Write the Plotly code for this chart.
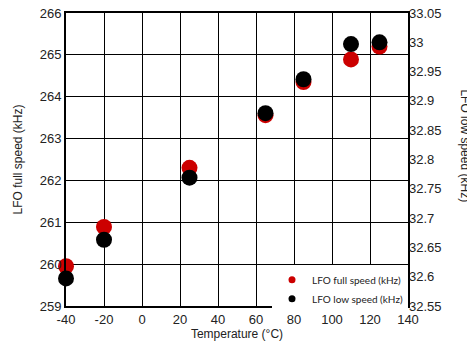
import plotly.graph_objects as go

# temperatures (°C)
temps = [-40, -20, 25, 65, 85, 110, 125]
# LFO full speed (kHz), left axis
full_speed = [259.95, 260.89, 262.3, 263.56, 264.35, 264.89, 265.2]
# LFO low speed (kHz), right axis
low_speed = [32.597, 32.663, 32.769, 32.879, 32.937, 32.997, 33.0]

x_ticks = [-40, -20, 0, 20, 40, 60, 80, 100, 120, 140]
x_labels = ["-40", "-20", "0", "20", "40", "60", "80", "100", "120", "140"]
right_ticks = [32.55, 32.6, 32.65, 32.7, 32.75, 32.8, 32.85, 32.9, 32.95, 33, 33.05]
right_labels = ["32.55", "32.6", "32.65", "32.7", "32.75", "32.8", "32.85", "32.9", "32.95", "33", "33.05"]

RED = "#cc0000"
BLACK = "#000000"

fig = go.Figure()
fig.add_trace(go.Scatter(
    x=temps, y=full_speed, mode="markers", showlegend=False,
    marker=dict(color=RED, size=16), cliponaxis=False,
))
fig.add_trace(go.Scatter(
    x=temps, y=low_speed, mode="markers", showlegend=False,
    marker=dict(color=BLACK, size=16), yaxis="y2", cliponaxis=False,
))
# legend entries with the small markers
fig.add_trace(go.Scatter(x=[None], y=[None], mode="markers", name="LFO full speed (kHz)",
                         marker=dict(color=RED, size=7)))
fig.add_trace(go.Scatter(x=[None], y=[None], mode="markers", name="LFO low speed (kHz)",
                         marker=dict(color=BLACK, size=7)))

tick_font = dict(family="Liberation Sans, Arial", size=13, color="#222")
title_font = dict(family="Liberation Sans, Arial", size=12, color="#222")
# page body adds ~8px offset, so margins are shifted to compensate
fig.update_layout(
    width=475, height=348,
    margin=dict(l=58, r=75, t=5, b=50),
    plot_bgcolor="white", paper_bgcolor="white",
    showlegend=True,
    legend=dict(
        x=1, y=-0.025, xanchor="right", yanchor="bottom",
        bgcolor="white", font=dict(family="Lato", size=10, color="#222"),
        tracegroupgap=0,
    ),
    xaxis=dict(
        range=[-40, 140], tickvals=x_ticks, ticktext=x_labels,
        showgrid=True, gridcolor="black", gridwidth=1,
        showline=True, linecolor="black", linewidth=2, mirror=True,
        zeroline=False, tickfont=tick_font, automargin=False,
        ticklabeloverflow="allow",
        title=dict(text="Temperature (°C)", font=title_font, standoff=2),
    ),
    yaxis=dict(
        range=[259, 266], dtick=1,
        showgrid=True, gridcolor="black", gridwidth=1,
        showline=True, linecolor="black", linewidth=2, mirror=True,
        zeroline=False, tickfont=tick_font, automargin=False,
        ticklabeloverflow="allow",
        title=dict(text="LFO full speed (kHz)", font=title_font, standoff=14),
    ),
    yaxis2=dict(
        range=[32.55, 33.05], overlaying="y", side="right",
        tickvals=right_ticks, ticktext=right_labels,
        showgrid=False, zeroline=False, tickfont=tick_font, automargin=False,
        ticklabeloverflow="allow",
    ),
    annotations=[dict(
        text="LFO low speed (kHz)", font=title_font, textangle=90,
        xref="paper", yref="paper", x=1, y=0.548, xshift=57,
        xanchor="center", yanchor="middle", showarrow=False,
    )],
)

fig.write_html("out.html")
